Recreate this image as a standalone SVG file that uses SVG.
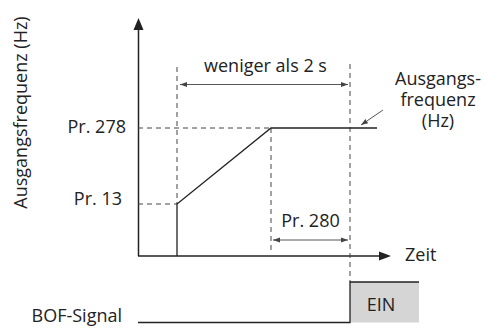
<svg xmlns="http://www.w3.org/2000/svg" width="487" height="328" viewBox="0 0 487 328">
<style>
text{font-family:"Open Sans","Liberation Sans",sans-serif;font-size:18px;fill:#222}
.ax{stroke:#222;stroke-width:1.5;fill:none}
.sol{stroke:#222;stroke-width:1.3;fill:none}
.dash{stroke:#444;stroke-width:1;stroke-dasharray:5,4;fill:none}
.dim{stroke:#555;stroke-width:1;fill:none}
</style>
<defs>
<marker id="ah" markerWidth="8" markerHeight="6" refX="7" refY="3" orient="auto" markerUnits="userSpaceOnUse">
<path d="M0,0.5 L7,3 L0,5.5 Z" fill="#444"/>
</marker>
<marker id="as" markerWidth="8" markerHeight="6" refX="1" refY="3" orient="auto" markerUnits="userSpaceOnUse">
<path d="M8,0.5 L1,3 L8,5.5 Z" fill="#444"/>
</marker>
</defs>
<g id="axes">
<line class="ax" x1="138.5" y1="256" x2="138.5" y2="28"/>
<path d="M138.5,18 L133.5,30 L143.5,30 Z" fill="#222"/>
<line class="ax" x1="138" y1="256" x2="381" y2="256"/>
<path d="M391,256 L379,251.5 L379,260.5 Z" fill="#222"/>
<text x="405" y="261">Zeit</text>
<text transform="translate(27,112.5) rotate(-90)" text-anchor="middle">Ausgangsfrequenz (Hz)</text>
</g>
<g id="connectors">
<line class="dash" x1="138" y1="128" x2="271" y2="128"/>
<line class="dash" x1="138" y1="204" x2="177" y2="204"/>
<line class="dash" x1="177" y1="67" x2="177" y2="204"/>
<line class="dash" x1="350" y1="64" x2="350" y2="282"/>
<line class="dash" x1="271" y1="128" x2="271" y2="252"/>
<line class="dim" x1="180" y1="84.5" x2="348" y2="84.5" marker-start="url(#as)" marker-end="url(#ah)"/>
<line class="dim" x1="273" y1="240" x2="348" y2="240" marker-start="url(#as)" marker-end="url(#ah)"/>
<line class="dim" x1="383" y1="110" x2="361" y2="125" marker-end="url(#ah)"/>
</g>
<g id="frequency">
<polyline class="sol" points="177,256 177,204 271,128 377,128"/>
</g>
<g id="labels">
<text x="126" y="132.5" text-anchor="end">Pr. 278</text>
<text x="122" y="205" text-anchor="end">Pr. 13</text>
<text x="265.5" y="72" text-anchor="middle">weniger als 2 s</text>
<text x="310.5" y="227" text-anchor="middle">Pr. 280</text>
<text x="438" y="85" text-anchor="middle">Ausgangs-</text>
<text x="438" y="106" text-anchor="middle">frequenz</text>
<text x="438" y="127" text-anchor="middle">(Hz)</text>
</g>
<g id="bof">
<rect x="350" y="282" width="69" height="40.5" fill="#d5d5d5"/>
<polyline class="sol" points="138,322.5 350,322.5 350,282 419,282"/>
<text x="381" y="311" text-anchor="middle">EIN</text>
<text x="122" y="321.5" text-anchor="end">BOF-Signal</text>
</g>
</svg>
